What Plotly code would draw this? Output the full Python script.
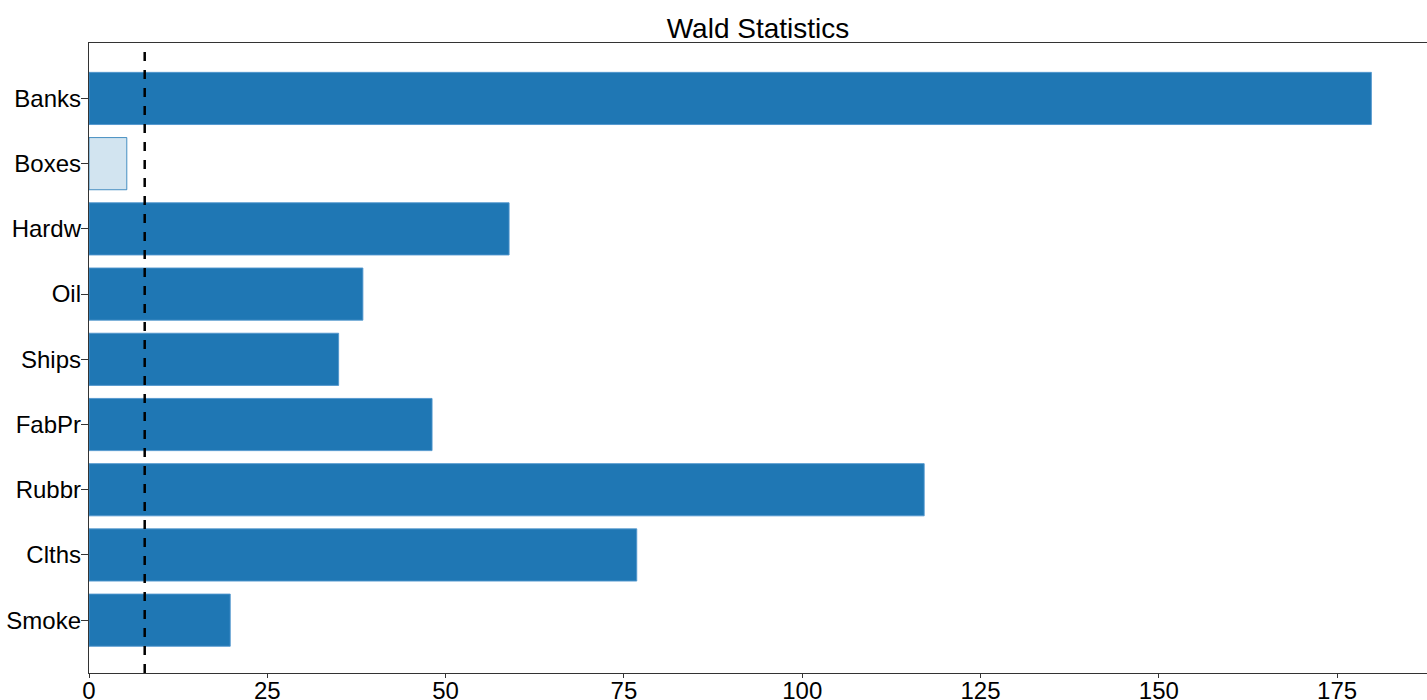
import plotly.graph_objects as go

categories = ["Banks", "Boxes", "Hardw", "Oil", "Ships", "FabPr", "Rubbr", "Clths", "Smoke"]
wald_values = [179.8, 5.3, 58.9, 38.4, 35.0, 48.1, 117.1, 76.8, 19.8]
significant = [True, False, True, True, True, True, True, True, True]
critical_value = [7.81]
x_ticks = [0, 25, 50, 75, 100, 125, 150, 175]

# plot bottom-to-top
cats_plot = categories[::-1]
vals_plot = wald_values[::-1]
sig_plot = significant[::-1]

fill_colors = ["#1f77b4" if s else "rgba(31,119,180,0.2)" for s in sig_plot]
line_colors = ["rgba(80,150,205,0.9)" if s else "rgba(31,119,180,0.8)" for s in sig_plot]

fig = go.Figure()
fig.add_trace(go.Bar(
    x=vals_plot, y=cats_plot, orientation="h",
    marker=dict(color=fill_colors, line=dict(color=line_colors, width=1)),
    width=0.8, showlegend=False,
))

fig.add_shape(type="line", xref="x", yref="paper",
              x0=critical_value[0], x1=critical_value[0], y0=0, y1=1,
              line=dict(color="black", width=2.5, dash="dash"))

font_family = "Liberation Sans, Arial, sans-serif"
fig.update_layout(
    width=1427, height=700,
    margin=dict(l=89, r=0, t=43, b=27, autoexpand=False),
    plot_bgcolor="white", paper_bgcolor="white",
    title=dict(text="Wald Statistics", x=0.5, xref="paper", xanchor="center",
               y=1 - 28 / 700, yref="container", yanchor="middle",
               font=dict(family=font_family, size=28, color="black")),
    font=dict(family=font_family, size=24, color="black"),
    bargap=0.2,
)
fig.update_xaxes(range=[0, 187.6], tickvals=x_ticks, ticks="outside", ticklen=4,
                 tickcolor="#333", showline=True, linecolor="#333", linewidth=1.3,
                 mirror=True, showgrid=False, zeroline=False, automargin=False,
                 ticklabelstandoff=-8, tickfont=dict(size=24))
fig.update_yaxes(categoryorder="array", categoryarray=cats_plot, range=[-0.81, 8.85],
                 ticks="outside", ticklen=7, tickcolor="#333", showline=True,
                 linecolor="#333", linewidth=1.3, mirror=True, showgrid=False,
                 zeroline=False, automargin=False, ticklabelstandoff=-5,
                 tickfont=dict(size=24))

fig.write_html("out.html", config={"displayModeBar": False},
               post_script="document.body.style.margin='0';document.body.style.overflow='hidden';")
